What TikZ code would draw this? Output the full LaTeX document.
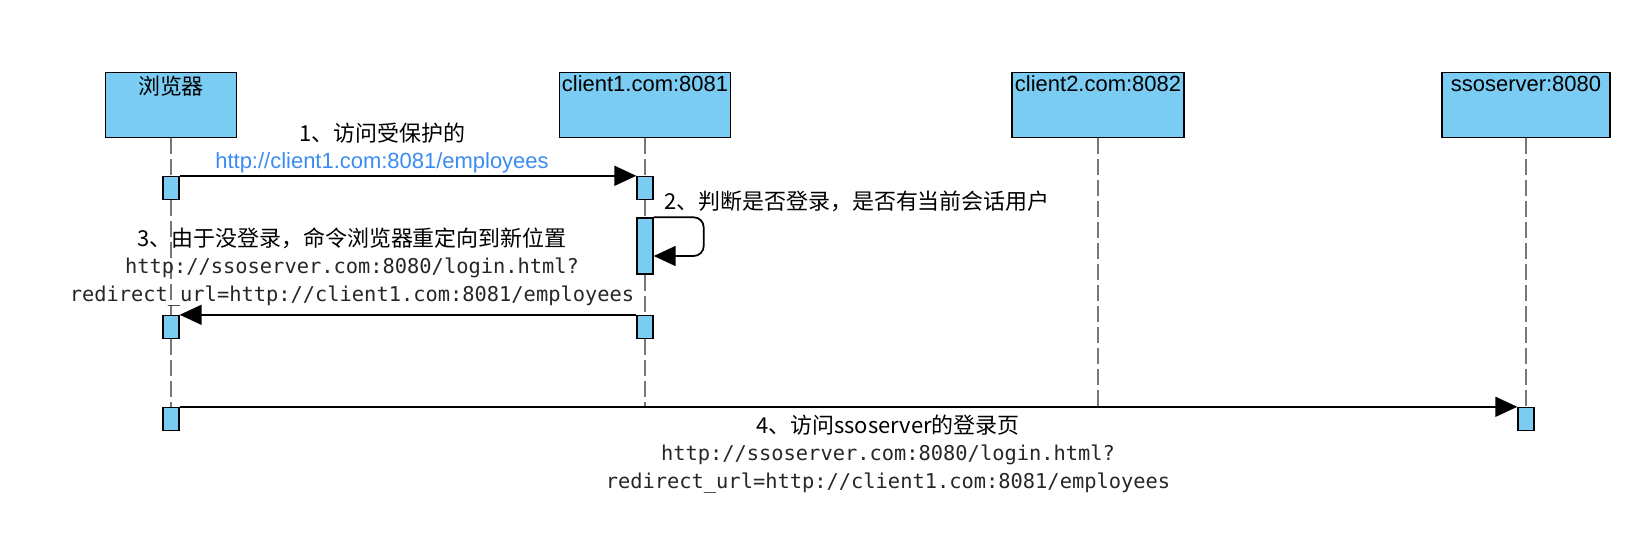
\documentclass[tikz,border=0pt]{standalone}
\usepackage{fontspec}
\setmainfont{Liberation Sans}
\setmonofont{DejaVu Sans Mono}
\newfontfamily\cjk{Noto Sans CJK SC}
\usetikzlibrary{arrows.meta}

\definecolor{lifeblue}{HTML}{7ACCF2}
\definecolor{lifegray}{HTML}{777777}
\definecolor{urlblue}{HTML}{3A8CF2}
\definecolor{urlgray}{HTML}{262626}
\newcommand{\urlfont}{\fontsize{11.6}{15.5}\selectfont\ttfamily\color{urlgray}}

\begin{document}
\begin{tikzpicture}[x=0.02cm, y=-0.02cm,
    box/.style={rectangle, draw=black, thick, fill=lifeblue, minimum height=1.3cm},
    boxhead/.style={anchor=north, inner sep=2pt, font=\fontsize{12.5}{15}\selectfont},
    act/.style={rectangle, draw=black, thick, fill=lifeblue, minimum width=0.32cm,
                minimum height=0.46cm, inner sep=0pt},
    life/.style={draw=lifegray, line width=1.5pt, dash pattern=on 0.32cm off 0.1cm},
    line/.style={-{Triangle[length=0.44cm, width=0.4cm]}, line width=1pt},
    txt/.style={align=center, font=\fontsize{12.5}{15.5}\selectfont},
  ]
  \useasboundingbox (0,0) rectangle (1633,555);

  \node[box, minimum width=2.62cm, label={[boxhead]north:{\cjk 浏览器}}] (browser) at (171, 105) {};
  \node[box, minimum width=3.42cm, label={[boxhead]north:{client1.com:8081}}] (client1) at (645, 105) {};
  \node[box, minimum width=3.44cm, label={[boxhead]north:{client2.com:8082}}] (client2) at (1098, 105) {};
  \node[box, minimum width=3.36cm, label={[boxhead]north:{ssoserver:8080}}] (sso) at (1526, 105) {};

  % activations
  \node[act] (b1)  at (171, 188) {};
  \node[act] (c1a) at (645, 188) {};
  \node[act, minimum height=1.12cm] (c1b) at (645, 246) {};
  \node[act] (b3)  at (171, 327) {};
  \node[act] (c1c) at (645, 327) {};
  \node[act] (b4)  at (171, 419) {};
  \node[act] (s4)  at (1526, 419) {};
  \coordinate (c1end) at (645, 406);
  \coordinate (c2end) at (1098, 406);

  % lifelines
  \draw[life] (browser) -- (b1);
  \draw[life] (b1) -- (b3);
  \draw[life] (b3) -- (b4);
  \draw[life] (client1) -- (c1a);
  \draw[life] (c1a) -- (c1b);
  \draw[life] (c1b) -- (c1c);
  \draw[life] (c1c) -- (c1end);
  \draw[life] (client2) -- (c2end);
  \draw[life] (sso) -- (s4);

  % messages
  \draw[line] (b1.north east) -- (c1a.north west);
  \draw[line, rounded corners=0.2cm] (c1b.north east) -- ++(50,0) |- ([yshift=-0.2cm]c1b.east);
  \draw[line] (c1c.north west) -- (b3.north east);
  \draw[line] (b4.north east) -- (s4.north west);

  \node[txt] (m1) at (382, 148) {{\cjk 1、访问受保护的}\\{\color{urlblue}http://client1.com:8081/employees}};
  \node[txt, anchor=west] (m2) at (658, 201) {\cjk 2、判断是否登录，是否有当前会话用户};
  \node[txt] (m3) at (352, 267) {{\cjk 3、由于没登录，命令浏览器重定向到新位置}\\
    {\urlfont http://ssoserver.com:8080/login.html?}\\
    {\urlfont redirect\_url=http://client1.com:8081/employees}};
  \node[txt] (m4) at (888, 454) {{\cjk 4、访问ssoserver的登录页}\\
    {\urlfont http://ssoserver.com:8080/login.html?}\\
    {\urlfont redirect\_url=http://client1.com:8081/employees}};

\end{tikzpicture}
\end{document}
